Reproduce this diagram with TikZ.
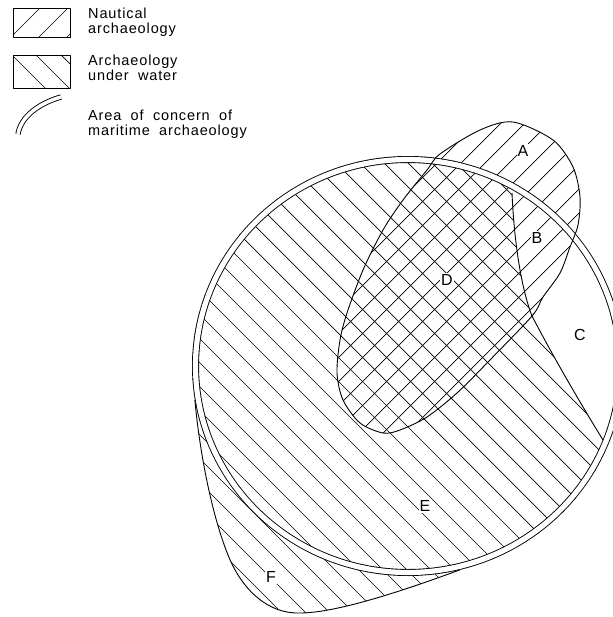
\documentclass[tikz,border=0pt]{standalone}
\usepackage{fontspec}
\setmainfont{Liberation Sans}[LetterSpace=6,WordSpace=1.9]
\usetikzlibrary{calc}
\begin{document}
\begin{tikzpicture}[x=1pt,y=-1pt,line join=round,
    outline/.style={line width=0.9pt},
    hatchline/.style={line width=0.7pt},
    ring/.style={outline,double,double distance=5.2pt},
    legendtext/.style={font=\fontsize{14.5}{15}\selectfont,align=left,anchor=north west,inner sep=0pt},
    regionlabel/.style={font=\fontsize{16}{16}\selectfont,inner sep=1pt,fill=white}]
    \useasboundingbox (0,0) rectangle (612,617);
    % key: nautical archaeology
    \begin{scope}
        \clip (13,8) rectangle (70,37);
        \foreach \c in {48,76,104}
            \draw[hatchline] (\c-8,8) -- (\c-37,37);
    \end{scope}
    \draw[outline] (13,8) rectangle (70,37);
    \node[legendtext] (keyNaut) at (88,8) {Nautical\\archaeology};
    % key: archaeology under water
    \begin{scope}
        \clip (13,55) rectangle (70,88);
        \foreach \c in {-43,-19,6}
            \draw[hatchline] (\c+55,55) -- (\c+88,88);
    \end{scope}
    \draw[outline] (13,55) rectangle (70,88);
    \node[legendtext] (keyWater) at (88,55) {Archaeology\\under water};
    % key: area of concern
    \draw[ring,double distance=3.5pt] (18,134) .. controls (21,116) and (40,103) .. (61,97);
    \node[legendtext] (keyMar) at (88,110) {Area of concern of\\maritime archaeology};

    % fixed points
    \coordinate (ctr) at (408,366);
    \coordinate (bdTop) at (512,193);
    \coordinate (cusp) at (532,316);
    \coordinate (ceEnd) at (603,440);
    \coordinate (ceOut) at ($(ctr)+(21.3:216 and 210)$);
    \coordinate (fR) at ($(ctr)+(76.1:216 and 210)$);
    \coordinate (fL) at ($(ctr)+(170.7:216 and 210)$);

    % nautical archaeology, / hatching
    \begin{scope}
        \clip plot[smooth cycle] coordinates {(363,270) (383,230) (403,200) (427,170) (440,154)
            (480,130) (513,122) (553,140) (573,167) (580,197) (578,225) (570,247) (560,273)
            (543,297) (532,316) (487,363) (457,393) (427,417) (400,430) (383,433) (360,423)
            (343,400) (337,373) (340,340) (347,313)};
        \foreach \c in {456,480,...,1032}
            \draw[hatchline] (\c-100,100) -- (\c-660,660);
    \end{scope}
    % archaeology under water, \ hatching
    \begin{scope}
        \clip (bdTop) .. controls (514,240) and (521,288) .. (cusp)
            .. controls (547,345) and (574,393) .. (ceEnd) -- (ceOut)
            arc[start angle=21.3,end angle=76.1,x radius=216,y radius=210]
            .. controls (400,592) and (335,613) .. (300,613)
            .. controls (268,614) and (242,590) .. (228,555)
            .. controls (212,515) and (200,455) .. (fL)
            arc[start angle=170.7,end angle=300.3,x radius=216,y radius=210] -- cycle;
        \foreach \c in {-427,-403,...,485}
            \draw[hatchline] (\c+100,100) -- (\c+660,660);
    \end{scope}

    % area of concern of maritime archaeology
    \draw[ring] (ctr) ellipse [x radius=212.5,y radius=206.5];
    % outlines
    \draw[outline] plot[smooth cycle] coordinates {(363,270) (383,230) (403,200) (427,170) (440,154)
        (480,130) (513,122) (553,140) (573,167) (580,197) (578,225) (570,247) (560,273)
        (543,297) (532,316) (487,363) (457,393) (427,417) (400,430) (383,433) (360,423)
        (343,400) (337,373) (340,340) (347,313)};
    \draw[outline] (bdTop) .. controls (514,240) and (521,288) .. (cusp)
        .. controls (547,345) and (574,393) .. (ceEnd);
    \draw[outline] (fR) .. controls (400,592) and (335,613) .. (300,613)
        .. controls (268,614) and (242,590) .. (228,555)
        .. controls (212,515) and (200,455) .. (fL);

    % region letters
    \node[regionlabel] (labA) at (523,151) {A};
    \node[regionlabel] (labB) at (537,238) {B};
    \node[regionlabel] (labC) at (580,335) {C};
    \node[regionlabel] (labD) at (447,280) {D};
    \node[regionlabel] (labE) at (425,506) {E};
    \node[regionlabel] (labF) at (271,577) {F};
\end{tikzpicture}
\end{document}
